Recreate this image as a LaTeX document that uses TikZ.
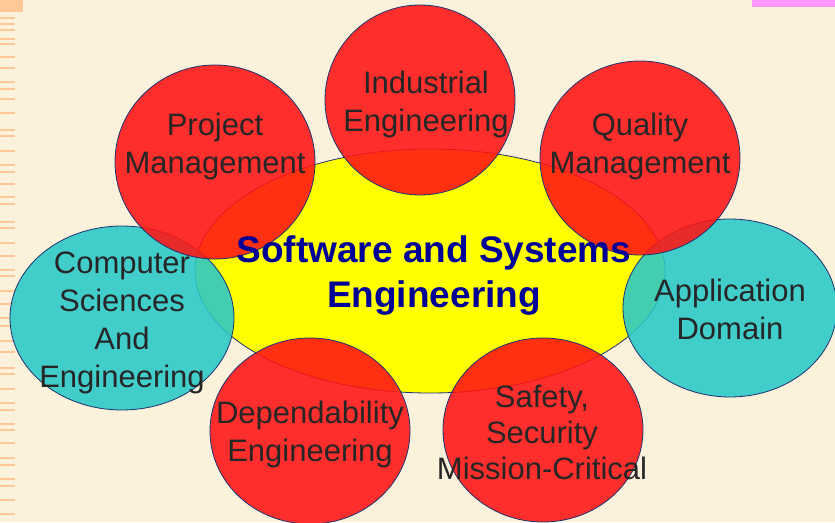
\documentclass[tikz,border=0pt]{standalone}
\usepackage{fontspec}
\setmainfont{Liberation Sans}
\usepackage{tikz}
\usetikzlibrary{shapes.geometric}
\definecolor{paper}{RGB}{252,242,220}
\definecolor{stripe}{RGB}{255,200,150}
\definecolor{tabpink}{RGB}{255,153,255}
\definecolor{blobred}{RGB}{255,20,20}
\definecolor{blobcyan}{RGB}{40,200,200}
\definecolor{coreyellow}{RGB}{255,255,0}
\definecolor{rimblue}{RGB}{30,50,110}
\definecolor{titleblue}{RGB}{0,0,150}
\definecolor{inkgray}{RGB}{38,38,38}

\begin{document}
\begin{tikzpicture}[x=1pt,y=1pt,
  blob/.style={ellipse,draw=rimblue,line width=0.8pt,inner sep=0pt},
  redblob/.style={blob,fill=blobred,fill opacity=0.88},
  cyanblob/.style={blob,fill=blobcyan,fill opacity=0.88},
  coreblob/.style={blob,fill=coreyellow},
  tag/.style={align=center,text=inkgray,font=\fontsize{31}{38}\selectfont},
  title/.style={align=center,text=titleblue,font=\fontsize{37}{45}\selectfont\bfseries}]
\clip (0,0) rectangle (835,522);
\fill[paper] (0,0) rectangle (835,522);
\foreach \y in {504,498,492,483,478,465,454,440,433,423,409,
  392,386,371,357,350,338,325,318,300,294,279,266,
  252,246,231,218,204,196,181,170,154,148,133,
  119,112,98,92,79,64,57,43,36,22,8}
  \draw[stripe,line width=1.8pt] (0,\y) -- (15,\y);
\fill[stripe] (0,510) rectangle (23,522);
\fill[tabpink] (752,515) rectangle (835,522);

\node[coreblob,minimum width=470pt,minimum height=244pt] (core) at (430,251) {};
\node[cyanblob,minimum width=224pt,minimum height=184pt] (cs) at (122,204) {};
\node[cyanblob,minimum width=214pt,minimum height=178pt] (app) at (730,214) {};
\node[redblob,minimum width=200pt,minimum height=194pt] (pm) at (215,360) {};
\node[redblob,minimum width=190pt,minimum height=190pt] (ie) at (420,422) {};
\node[redblob,minimum width=200pt,minimum height=194pt] (qm) at (640,364) {};
\node[redblob,minimum width=200pt,minimum height=186pt] (de) at (310,91) {};
\node[redblob,minimum width=200pt,minimum height=184pt] (ss) at (543,92) {};

\node[title] (coretext) at (434,246) {Software and Systems\\Engineering};
\node[tag] (cstext) at (122,199) {Computer\\Sciences\\And\\Engineering};
\node[tag] (apptext) at (730,213) {Application\\Domain};
\node[tag] (pmtext) at (215,376) {Project\\Management};
\node[tag] (ietext) at (426,418) {Industrial\\Engineering};
\node[tag] (qmtext) at (640,376) {Quality\\Management};
\node[tag] (detext) at (310,88) {Dependability\\Engineering};
\node[tag,font=\fontsize{31}{36}\selectfont] (sstext) at (542,90) {Safety,\\Security\\Mission-Critical};
\end{tikzpicture}
\end{document}
